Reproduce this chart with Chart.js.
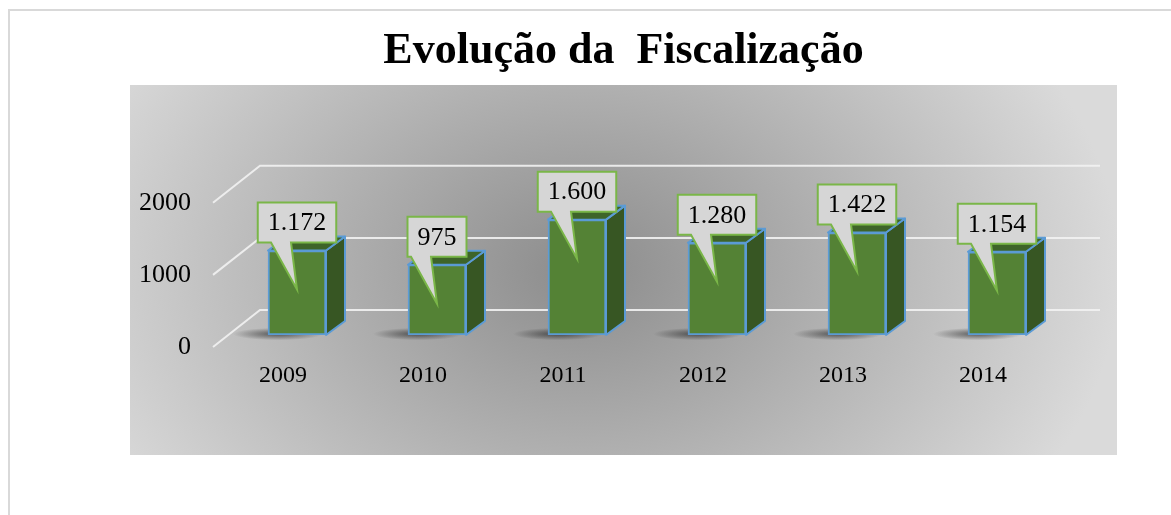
<!DOCTYPE html>
<html>
<head>
<meta charset="utf-8">
<script src="https://cdn.jsdelivr.net/npm/chart.js@4.4.1/dist/chart.umd.min.js"></script>
<style>
  html, body { margin: 0; padding: 0; background: #fff; }
  canvas { display: block; }
</style>
</head>
<body>
<canvas id="chart" width="1171" height="515"></canvas>
<script>
var years = ['2009', '2010', '2011', '2012', '2013', '2014'];
var fiscalizacoes = [1172, 975, 1600, 1280, 1422, 1154];
var yTicks = [0, 1000, 2000];
var chartTitle = 'Evolução da  Fiscalização';

// thousands with a dot, like the original sheet
function fmt(v) {
    return String(v).replace(/\B(?=(\d{3})+(?!\d))/g, '.');
}

var SERIF = '"Liberation Serif", "Times New Roman", serif';
var DEPTH_X = 19, DEPTH_Y = -14;   // bar depth
var WALL_X = 33, WALL_Y = -25;     // back wall, relative to the front scale
var FLOOR_X = -14, FLOOR_Y = 12;   // front edge of the floor

var frame = { left: 130, top: 85, right: 1117, bottom: 455 };

var backdrop = {
    id: 'backdrop',
    beforeDraw: function(chart) {
        var ctx = chart.ctx;
        ctx.save();
        ctx.fillStyle = '#fff';
        ctx.fillRect(0, 0, chart.width, chart.height);

        // outer border, only top and left show
        ctx.strokeStyle = '#d9d9d9';
        ctx.lineWidth = 2;
        ctx.beginPath();
        ctx.moveTo(9, chart.height);
        ctx.lineTo(9, 10);
        ctx.lineTo(chart.width, 10);
        ctx.stroke();

        // grey radial fill of the plot
        var cx = 580, cy = 270, rx = 540, ry = 400;
        ctx.beginPath();
        ctx.rect(frame.left, frame.top, frame.right - frame.left, frame.bottom - frame.top);
        ctx.clip();
        ctx.translate(cx, cy);
        ctx.scale(1, ry / rx);
        var g = ctx.createRadialGradient(0, 0, 0, 0, 0, rx);
        g.addColorStop(0, '#8c8c8c');
        g.addColorStop(1, '#dadada');
        ctx.fillStyle = g;
        ctx.fillRect(-rx * 2, -rx * 2, rx * 4, rx * 4);
        ctx.restore();
    }
};

var bars3d = {
    id: 'bars3d',
    beforeDatasetsDraw: function(chart) {
        var ctx = chart.ctx, area = chart.chartArea, y = chart.scales.y;
        ctx.save();

        // back wall grid + floor edge
        ctx.strokeStyle = 'rgba(242,242,242,0.9)';
        ctx.lineWidth = 2;
        yTicks.forEach(function(v) {
            var py = y.getPixelForValue(v);
            ctx.beginPath();
            ctx.moveTo(area.left + FLOOR_X, py + FLOOR_Y);
            ctx.lineTo(area.left + WALL_X, py + WALL_Y);
            ctx.lineTo(area.right + WALL_X, py + WALL_Y);
            ctx.stroke();
        });

        chart.getDatasetMeta(0).data.forEach(function(bar) {
            var p = bar.getProps(['x', 'y', 'base', 'width'], true);
            var l = p.x - p.width / 2, r = p.x + p.width / 2;

            // soft shadow on the floor
            ctx.save();
            ctx.translate(l + 10, p.base - 1);
            ctx.scale(1, 0.14);
            var sg = ctx.createRadialGradient(0, 0, 0, 0, 0, 45);
            sg.addColorStop(0, 'rgba(30,30,30,0.65)');
            sg.addColorStop(1, 'rgba(30,30,30,0)');
            ctx.fillStyle = sg;
            ctx.beginPath();
            ctx.arc(0, 0, 45, 0, Math.PI * 2);
            ctx.fill();
            ctx.restore();

            ctx.strokeStyle = '#5b9bd5';
            ctx.lineWidth = 2;
            ctx.lineJoin = 'round';

            // side
            ctx.beginPath();
            ctx.moveTo(r, p.y);
            ctx.lineTo(r + DEPTH_X, p.y + DEPTH_Y);
            ctx.lineTo(r + DEPTH_X, p.base + DEPTH_Y);
            ctx.lineTo(r, p.base);
            ctx.closePath();
            ctx.fillStyle = '#375623';
            ctx.fill();
            ctx.stroke();

            // top
            ctx.beginPath();
            ctx.moveTo(l, p.y);
            ctx.lineTo(l + DEPTH_X, p.y + DEPTH_Y);
            ctx.lineTo(r + DEPTH_X, p.y + DEPTH_Y);
            ctx.lineTo(r, p.y);
            ctx.closePath();
            ctx.fillStyle = '#3e6429';
            ctx.fill();
            ctx.stroke();
        });
        ctx.restore();
    },
    afterDatasetsDraw: function(chart) {
        var ctx = chart.ctx;
        ctx.save();
        ctx.font = '26px ' + SERIF;
        chart.getDatasetMeta(0).data.forEach(function(bar, i) {
            var text = fmt(fiscalizacoes[i]);
            var w = ctx.measureText(text).width + 20, h = 40;
            var cx = bar.x, bottom = bar.y - 8, top = bottom - h;
            var left = cx - w / 2, right = cx + w / 2;

            ctx.beginPath();
            ctx.moveTo(left, top);
            ctx.lineTo(right, top);
            ctx.lineTo(right, bottom);
            ctx.lineTo(cx - 6, bottom);
            ctx.lineTo(cx, bar.y + 39);
            ctx.lineTo(cx - 26, bottom);
            ctx.lineTo(left, bottom);
            ctx.closePath();
            ctx.fillStyle = '#d6d6d6';
            ctx.fill();
            ctx.strokeStyle = '#7ab648';
            ctx.lineWidth = 2;
            ctx.stroke();

            ctx.fillStyle = '#000';
            ctx.textAlign = 'center';
            ctx.textBaseline = 'middle';
            ctx.fillText(text, cx, top + h / 2 + 1);
        });
        ctx.restore();
    }
};

new Chart(document.getElementById('chart'), {
    type: 'bar',
    data: {
        labels: years,
        datasets: [{
            data: fiscalizacoes,
            backgroundColor: '#548235',
            borderColor: '#5b9bd5',
            borderWidth: 2,
            borderSkipped: false,
            barThickness: 58
        }]
    },
    options: {
        responsive: false,
        animation: false,
        events: [],
        layout: { padding: { left: 130, right: 54, top: 0, bottom: 0 } },
        plugins: {
            legend: { display: false },
            tooltip: { enabled: false },
            title: {
                display: true,
                text: chartTitle,
                color: '#000',
                font: { family: SERIF, size: 44, weight: 'bold', lineHeight: 1.2 },
                padding: { top: 25, bottom: 113 }
            }
        },
        scales: {
            x: {
                grid: { display: false, drawTicks: false },
                border: { display: false },
                ticks: {
                    color: '#000',
                    font: { family: SERIF, size: 24 },
                    padding: 26,
                    labelOffset: -14,
                    maxRotation: 0
                },
                afterFit: function(s) { s.height = 180; }
            },
            y: {
                min: 0,
                max: 2000,
                afterBuildTicks: function(s) {
                    s.ticks = yTicks.map(function(v) { return { value: v }; });
                },
                grid: { display: false, drawTicks: false },
                border: { display: false },
                ticks: {
                    color: '#000',
                    font: { family: SERIF, size: 26 },
                    padding: 36,
                    labelOffset: 12,
                    callback: function(v) { return String(v); }
                },
                afterFit: function(s) { s.width = 97; }
            },
            // empty axis, just keeps room on the right
            y2: {
                position: 'right',
                display: true,
                grid: { display: false, drawTicks: false },
                border: { display: false },
                ticks: { display: false },
                afterFit: function(s) { s.width = 50; }
            }
        }
    },
    plugins: [backdrop, bars3d]
});
</script>
</body>
</html>
